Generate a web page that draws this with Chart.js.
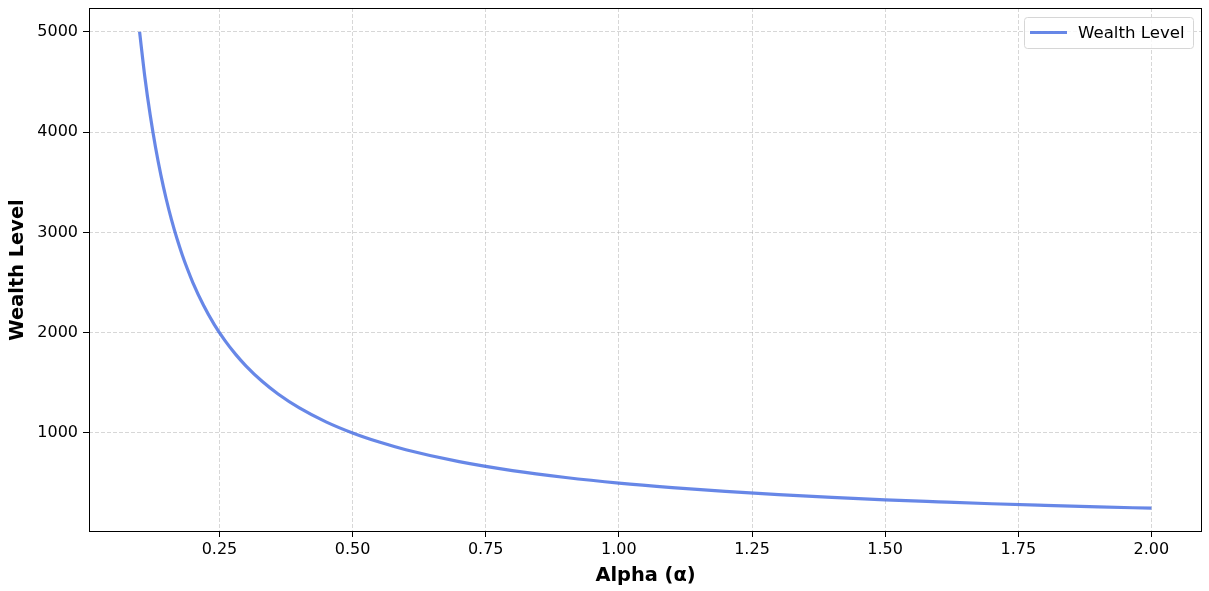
<!DOCTYPE html>
<html>
<head>
<meta charset="utf-8">
<script src="https://cdn.jsdelivr.net/npm/chart.js@4/dist/chart.umd.min.js"></script>
<style>
html,body{margin:0;padding:0;background:#fff;}
#wrap{width:1209px;height:591px;position:relative;}
</style>
</head>
<body>
<div id="wrap"><canvas id="c" width="1209" height="591"></canvas></div>
<script>
const alphaValues = [0.10,0.11,0.12,0.13,0.14,0.15,0.16,0.17,0.18,0.19,0.20,0.22,0.24,0.26,0.28,0.30,0.33,0.36,0.40,0.45,0.50,0.55,0.60,0.70,0.80,0.90,1.00,1.10,1.20,1.30,1.40,1.50,1.60,1.70,1.80,1.90,2.00];
const wealthValues = [5000,4545,4167,3846,3571,3333,3125,2941,2778,2632,2500,2273,2083,1923,1786,1667,1515,1389,1250,1111,1000,909,833,714,625,556,500,455,417,385,357,333,313,294,278,263,250];
const xTickValues = [0.25,0.50,0.75,1.00,1.25,1.50,1.75,2.00];
const yTickValues = [1000,2000,3000,4000,5000];
const seriesLabel = 'Wealth Level';
const xTitle = 'Alpha (α)';
const yTitle = 'Wealth Level';

const lineColor = 'rgba(65,105,225,0.8)';
const FONT = "'DejaVu Sans', sans-serif";

const framePlugin = {
  id: 'frameLegend',
  afterDraw(chart) {
    const {ctx, chartArea: a} = chart;
    ctx.save();
    ctx.strokeStyle = '#000';
    ctx.lineWidth = 1;
    ctx.strokeRect(Math.round(a.left) + 0.5, Math.round(a.top) + 0.5, Math.round(a.right - a.left) - 1, Math.round(a.bottom - a.top) - 1);
    // legend
    const bw = 169, bh = 31;
    const bx = Math.round(a.right) - 9 - bw, by = Math.round(a.top) + 9;
    ctx.fillStyle = 'rgba(255,255,255,0.8)';
    ctx.strokeStyle = '#d6d6d6';
    ctx.lineWidth = 1;
    const r = 3;
    ctx.beginPath();
    ctx.moveTo(bx + r + 0.5, by + 0.5);
    ctx.lineTo(bx + bw - r + 0.5, by + 0.5);
    ctx.arcTo(bx + bw + 0.5, by + 0.5, bx + bw + 0.5, by + r + 0.5, r);
    ctx.lineTo(bx + bw + 0.5, by + bh - r + 0.5);
    ctx.arcTo(bx + bw + 0.5, by + bh + 0.5, bx + bw - r + 0.5, by + bh + 0.5, r);
    ctx.lineTo(bx + r + 0.5, by + bh + 0.5);
    ctx.arcTo(bx + 0.5, by + bh + 0.5, bx + 0.5, by + bh - r + 0.5, r);
    ctx.lineTo(bx + 0.5, by + r + 0.5);
    ctx.arcTo(bx + 0.5, by + 0.5, bx + r + 0.5, by + 0.5, r);
    ctx.closePath();
    ctx.fill();
    ctx.stroke();
    const ds = chart.data.datasets[0];
    ctx.strokeStyle = ds.borderColor;
    ctx.lineWidth = 3;
    ctx.beginPath();
    ctx.moveTo(bx + 6, by + bh / 2);
    ctx.lineTo(bx + 43, by + bh / 2);
    ctx.stroke();
    ctx.fillStyle = '#000';
    ctx.font = "16.6px " + FONT;
    ctx.textBaseline = 'middle';
    ctx.fillText(ds.label, bx + 54, by + bh / 2 + 1);
    ctx.restore();
  }
};

new Chart(document.getElementById('c'), {
  type: 'line',
  data: {
    datasets: [{
      label: seriesLabel,
      data: alphaValues.map((x, i) => ({x: x, y: wealthValues[i]})),
      borderColor: lineColor,
      backgroundColor: lineColor,
      borderWidth: 3.2,
      pointRadius: 0,
      cubicInterpolationMode: 'monotone',
      fill: false
    }]
  },
  options: {
    responsive: false,
    animation: false,
    devicePixelRatio: 1,
    layout: {padding: {left: 0, right: 7, top: 0, bottom: 0}},
    plugins: {legend: {display: false}, tooltip: {enabled: false}},
    scales: {
      x: {
        type: 'linear',
        min: 0.005,
        max: 2.095,
        afterBuildTicks: s => { s.ticks = xTickValues.map(v => ({value: v})); },
        afterFit: s => { s.height = 59; s.paddingLeft = 0; s.paddingRight = 0; },
        ticks: {
          color: '#000',
          font: {family: FONT, size: 16},
          padding: 3,
          maxRotation: 0,
          autoSkip: false,
          callback: v => Number(v).toFixed(2)
        },
        grid: {
          color: 'rgba(170,170,170,0.6)',
          lineWidth: 0.8,
          tickColor: '#000',
          tickLength: 5,
          tickWidth: 1,
          tickBorderDash: [1, 0]
        },
        border: {display: false, color: '#000', width: 1, dash: [4, 2]},
        title: {
          display: true,
          text: xTitle,
          color: '#000',
          font: {family: FONT, size: 19.4, weight: 'bold'},
          padding: {top: 3, bottom: 3}
        }
      },
      y: {
        type: 'linear',
        min: 12.5,
        max: 5237.5,
        afterBuildTicks: s => { s.ticks = yTickValues.map(v => ({value: v})); },
        afterFit: s => { s.width = 89; s.paddingTop = 8; s.paddingBottom = 0; },
        ticks: {
          color: '#000',
          font: {family: FONT, size: 16},
          padding: 5,
          autoSkip: false,
          callback: v => String(v)
        },
        grid: {
          color: 'rgba(170,170,170,0.6)',
          lineWidth: 0.8,
          tickColor: '#000',
          tickLength: 6,
          tickWidth: 1,
          tickBorderDash: [1, 0]
        },
        border: {display: false, color: '#000', width: 1, dash: [4, 2]},
        title: {
          display: true,
          text: yTitle,
          color: '#000',
          font: {family: FONT, size: 19.4, weight: 'bold'},
          padding: {top: 6, bottom: 6}
        }
      }
    }
  },
  plugins: [framePlugin]
});
</script>
</body>
</html>
